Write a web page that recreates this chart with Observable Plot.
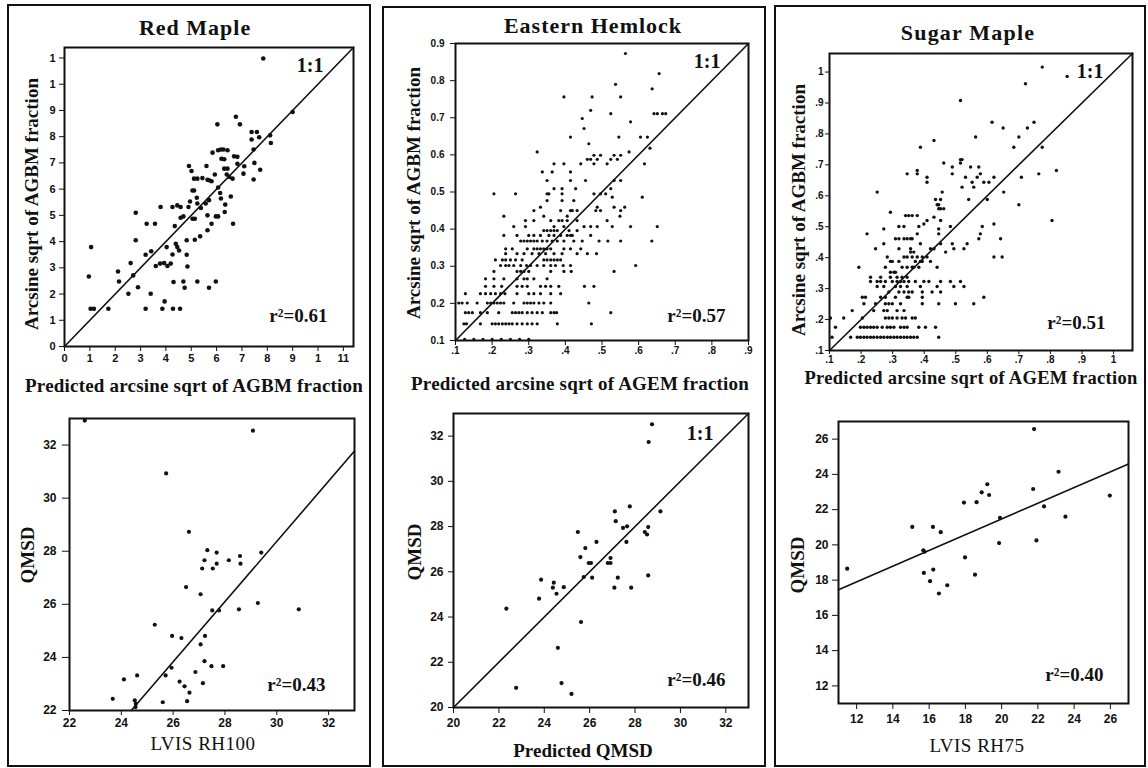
<!DOCTYPE html>
<html>
<head>
<meta charset="utf-8">
<script src="https://cdn.jsdelivr.net/npm/d3@7"></script>
<script src="https://cdn.jsdelivr.net/npm/@observablehq/plot@0.6"></script>
<style>
  body { margin: 0; background: #fff; }
  #page { position: relative; width: 1148px; height: 768px; overflow: hidden; background: #fff; }
  .box { position: absolute; border: 2px solid #111; box-sizing: border-box; }
  .panel { position: absolute; }
  .panel svg { overflow: visible; }
  .panel svg text { font-weight: bold; }
</style>
</head>
<body>
<div id="page"></div>
<script>
// ---- Data -------------------------------------------------------------
const species = ["Red Maple", "Eastern Hemlock", "Sugar Maple"];
const rSquared = [0.61, 0.57, 0.51, 0.43, 0.46, 0.40];

// Red maple: [predicted, observed] arcsine sqrt of AGBM fraction
const redMapleAgbm = [
  [0.096,0.267],[0.105,0.379],[0.103,0.144],[0.116,0.144],[0.173,0.144],[0.211,0.286],[0.215,0.248],
  [0.252,0.201],[0.261,0.318],[0.271,0.271],[0.281,0.510],[0.281,0.405],[0.290,0.226],[0.320,0.350],
  [0.320,0.144],[0.324,0.468],[0.340,0.201],[0.342,0.363],[0.357,0.468],[0.360,0.307],[0.377,0.316],
  [0.393,0.318],[0.406,0.307],[0.419,0.316],[0.379,0.532],[0.386,0.144],[0.395,0.172],[0.403,0.379],
  [0.426,0.532],[0.445,0.538],[0.458,0.532],[0.428,0.144],[0.456,0.144],[0.430,0.246],[0.426,0.351],
  [0.435,0.459],[0.439,0.392],[0.445,0.379],[0.452,0.366],[0.458,0.491],[0.469,0.496],[0.469,0.248],
  [0.474,0.224],[0.482,0.405],[0.482,0.350],[0.485,0.305],[0.489,0.532],[0.491,0.688],[0.495,0.553],
  [0.501,0.669],[0.505,0.595],[0.511,0.595],[0.505,0.487],[0.514,0.487],[0.511,0.640],[0.524,0.640],
  [0.514,0.407],[0.522,0.567],[0.524,0.248],[0.524,0.545],[0.535,0.420],[0.538,0.528],[0.544,0.642],
  [0.557,0.545],[0.570,0.558],[0.560,0.688],[0.564,0.636],[0.570,0.634],[0.580,0.630],[0.564,0.500],
  [0.564,0.443],[0.570,0.224],[0.580,0.468],[0.584,0.739],[0.593,0.656],[0.597,0.248],[0.597,0.496],
  [0.606,0.496],[0.603,0.847],[0.606,0.606],[0.606,0.748],[0.617,0.751],[0.627,0.751],[0.643,0.748],
  [0.614,0.585],[0.617,0.564],[0.619,0.716],[0.632,0.513],[0.634,0.541],[0.630,0.678],[0.643,0.678],
  [0.630,0.714],[0.640,0.656],[0.650,0.646],[0.663,0.640],[0.656,0.572],[0.665,0.468],[0.669,0.725],
  [0.682,0.723],[0.676,0.876],[0.682,0.697],[0.692,0.847],[0.706,0.659],[0.709,0.687],[0.738,0.818],
  [0.759,0.818],[0.738,0.789],[0.746,0.751],[0.746,0.637],[0.749,0.700],[0.768,0.798],[0.772,0.674],
  [0.784,1.098],[0.811,0.805],[0.814,0.776],[0.900,0.894]
];

// Eastern hemlock: [observed, [predicted values on that row]]
const hemlockAgbmRows = [
  [0.103, [0.125,0.15,0.175,0.2,0.225,0.25,0.275,0.3]],
  [0.145, [0.123,0.130,0.168,0.2,0.209,0.218,0.228,0.237,0.246,0.255,0.268,0.282,0.296,0.309,0.323,0.378,0.471]],
  [0.175, [0.127,0.136,0.146,0.168,0.187,0.218,0.255,0.264,0.273,0.282,0.296,0.309,0.323,0.337,0.360,0.369,0.376,0.524]],
  [0.201, [0.109,0.118,0.132,0.159,0.187,0.196,0.205,0.214,0.223,0.232,0.259,0.287,0.296,0.305,0.314,0.328,0.341,0.360,0.464]],
  [0.226, [0.127,0.168,0.182,0.196,0.209,0.223,0.235,0.268,0.300,0.314,0.332,0.360,0.387]],
  [0.246, [0.182,0.205,0.226,0.268,0.282,0.296,0.332,0.346,0.360,0.382,0.452,0.478]],
  [0.266, [0.182,0.205,0.232,0.268,0.287,0.296,0.314,0.350]],
  [0.286, [0.205,0.268,0.278,0.287,0.300,0.360,0.396,0.416,0.533]],
  [0.302, [0.223,0.237,0.246,0.259,0.278,0.294,0.305,0.323,0.341,0.360,0.373,0.394,0.414,0.592]],
  [0.317, [0.209,0.228,0.237,0.250,0.264,0.282,0.341,0.350,0.360,0.369,0.378,0.387]],
  [0.334, [0.237,0.268,0.287,0.309,0.328,0.346,0.369,0.391,0.432,0.460,0.485]],
  [0.347, [0.237,0.255,0.296,0.314,0.323,0.332,0.341,0.350,0.360,0.396,0.414,0.442]],
  [0.368, [0.278,0.287,0.296,0.305,0.314,0.323,0.337,0.350,0.364,0.378,0.396,0.423,0.446,0.492,0.516,0.551,0.636]],
  [0.383, [0.232,0.268,0.300,0.314,0.332,0.355,0.369,0.387,0.405,0.414,0.419,0.469]],
  [0.396, [0.341,0.350,0.360,0.369,0.378,0.410,0.432]],
  [0.407, [0.259,0.291,0.369,0.396,0.451,0.469,0.487,0.528,0.578,0.651]],
  [0.423, [0.291,0.314,0.360,0.382,0.391,0.405,0.432,0.514]],
  [0.435, [0.232,0.341,0.405,0.549]],
  [0.450, [0.314,0.387,0.414,0.419,0.432,0.483,0.496,0.551]],
  [0.459, [0.332,0.487,0.533,0.562]],
  [0.477, [0.350,0.391,0.423]],
  [0.486, [0.528,0.610]],
  [0.495, [0.205,0.264,0.350,0.355,0.391,0.478,0.496,0.510]],
  [0.509, [0.369,0.391,0.428,0.524]],
  [0.531, [0.350,0.414,0.455,0.533,0.551]],
  [0.554, [0.337,0.364,0.414]],
  [0.576, [0.369,0.396,0.442,0.478,0.514,0.616]],
  [0.588, [0.460,0.469,0.487,0.524,0.542]],
  [0.599, [0.478,0.496,0.533,0.551]],
  [0.608, [0.323,0.574]],
  [0.618, [0.631]],
  [0.630, [0.464]],
  [0.648, [0.414,0.546,0.605,0.624]],
  [0.671, [0.451]],
  [0.689, [0.578]],
  [0.698, [0.446]],
  [0.711, [0.524,0.642,0.651,0.665,0.674]],
  [0.720, [0.469]],
  [0.756, [0.396,0.473,0.551]],
  [0.778, [0.637]],
  [0.790, [0.537]],
  [0.819, [0.656]],
  [0.873, [0.564]]
];

// Sugar maple: [observed, [predicted values on that row]]
const sugarMapleAgbmRows = [
  [0.143, [0.108,0.167,0.188,0.198,0.209,0.219,0.230,0.240,0.251,0.262,0.272,0.283,0.293,0.304,0.314,0.325,0.336,0.346,0.357,0.367,0.378,0.446]],
  [0.175, [0.119,0.198,0.209,0.219,0.230,0.240,0.251,0.267,0.283,0.293,0.304,0.325,0.336,0.346,0.383,0.404,0.436]],
  [0.205, [0.103,0.145,0.204,0.277,0.288,0.299,0.314,0.330,0.341,0.362,0.372]],
  [0.229, [0.172,0.240,0.272,0.283,0.314,0.336]],
  [0.251, [0.209,0.246,0.277,0.288,0.299,0.325,0.394,0.446,0.499,0.557]],
  [0.272, [0.204,0.214,0.262,0.277,0.309,0.346,0.351,0.394,0.589]],
  [0.289, [0.288,0.320,0.336,0.351,0.362,0.394,0.425,0.452]],
  [0.307, [0.251,0.272,0.309,0.325,0.346,0.388,0.441,0.494,0.526]],
  [0.323, [0.230,0.251,0.262,0.277,0.299,0.314,0.325,0.336,0.351,0.372,0.399,0.415,0.452,0.483,0.515]],
  [0.337, [0.230,0.262,0.293,0.314,0.330,0.346]],
  [0.353, [0.293,0.304,0.309]],
  [0.369, [0.193,0.277,0.330,0.346,0.362,0.367,0.383,0.441]],
  [0.388, [0.293,0.299,0.320,0.372,0.388,0.394,0.420]],
  [0.402, [0.283,0.336,0.346,0.362,0.378,0.394,0.409,0.621,0.647]],
  [0.418, [0.357,0.367,0.468]],
  [0.429, [0.246,0.320,0.357,0.420,0.431,0.494,0.526]],
  [0.445, [0.272,0.388,0.452,0.489,0.536]],
  [0.461, [0.309,0.320,0.336,0.346,0.357,0.362,0.573,0.642]],
  [0.477, [0.219,0.378,0.446,0.578]],
  [0.493, [0.272,0.446]],
  [0.501, [0.320,0.336,0.383,0.483,0.584]],
  [0.509, [0.399,0.621]],
  [0.520, [0.409,0.452,0.805]],
  [0.531, [0.431]],
  [0.536, [0.341,0.351,0.362,0.378]],
  [0.547, [0.293]],
  [0.558, [0.446,0.452,0.462]],
  [0.571, [0.441,0.446,0.700]],
  [0.588, [0.436,0.452,0.541,0.600]],
  [0.612, [0.251,0.457,0.652]],
  [0.628, [0.520,0.557]],
  [0.644, [0.409,0.552,0.589,0.605]],
  [0.660, [0.409,0.531,0.568,0.621,0.708]],
  [0.671, [0.346,0.378,0.489,0.578,0.763]],
  [0.682, [0.378,0.819]],
  [0.693, [0.489,0.547,0.573]],
  [0.706, [0.462,0.515]],
  [0.717, [0.515,0.520]],
  [0.757, [0.388,0.684,0.774]],
  [0.779, [0.431]],
  [0.790, [0.563,0.700]],
  [0.819, [0.650,0.727]],
  [0.838, [0.615,0.748]],
  [0.908, [0.515]],
  [0.962, [0.721]],
  [0.986, [0.853]],
  [1.016, [0.774]]
];

// Red maple: [LVIS RH100, QMSD]
const redMapleQmsd = [
  [22.59,32.92],[29.08,32.54],[25.73,30.93],[26.61,28.73],[27.32,28.04],[27.68,27.95],[27.21,27.66],
  [27.12,27.35],[27.53,27.35],[27.68,27.53],[28.15,27.66],[28.58,27.82],[28.60,27.53],[29.40,27.95],
  [26.50,26.65],[27.06,26.38],[27.51,25.77],[27.77,25.77],[28.54,25.81],[29.27,26.05],[30.85,25.81],
  [25.29,25.23],[25.96,24.81],[26.32,24.73],[27.23,24.81],[27.06,24.49],[27.21,23.86],[27.48,23.67],
  [27.93,23.67],[25.94,23.61],[26.86,23.45],[25.71,23.32],[24.61,23.32],[24.10,23.17],[27.15,23.03],
  [26.25,23.09],[26.44,22.91],[26.63,22.67],[23.67,22.44],[24.52,22.38],[24.56,22.25],[24.55,22.13],
  [25.60,22.31],[26.54,22.35]
];

// Eastern hemlock: [predicted QMSD, QMSD]
const hemlockQmsd = [
  [28.75,32.52],[28.60,31.74],[27.77,28.89],[27.11,28.67],[29.12,28.67],[27.15,28.24],[27.65,28.01],
  [27.47,27.94],[28.58,27.98],[28.43,27.76],[28.53,27.65],[25.48,27.76],[27.62,27.32],[26.30,27.32],
  [25.81,27.05],[25.59,26.65],[26.92,26.61],[25.96,26.39],[26.06,26.39],[26.80,26.39],[26.92,26.39],
  [28.58,25.84],[26.11,25.74],[27.24,25.74],[25.74,25.77],[23.86,25.65],[24.42,25.52],[24.38,25.30],
  [24.86,25.32],[24.54,25.03],[27.09,25.30],[27.83,25.30],[23.77,24.81],[22.33,24.37],[25.62,23.78],
  [24.60,22.64],[24.76,21.08],[22.76,20.87],[25.20,20.60]
];

// Sugar maple: [LVIS RH75, QMSD]
const sugarMapleQmsd = [
  [11.48,18.65],[15.07,21.02],[16.21,21.02],[16.64,20.72],[15.68,19.69],[15.75,19.61],[15.71,18.41],
  [16.23,18.60],[16.05,17.94],[16.54,17.24],[17.00,17.71],[17.92,22.40],[18.62,22.42],[18.90,22.98],
  [19.21,23.44],[19.31,22.83],[17.98,19.29],[18.53,18.31],[19.86,20.10],[19.91,21.53],[21.79,26.57],
  [21.74,23.17],[21.92,20.25],[22.34,22.18],[23.14,24.15],[23.52,21.60],[25.97,22.80]
];

// Least-squares fits drawn in the QMSD panels
const redMapleFit = { slope: 1.134, intercept: -5.65 };
const sugarMapleFit = { slope: 0.446, intercept: 12.55 };

// Tick values and their printed labels
const redMapleTicks = [0, 0.1, 0.2, 0.3, 0.4, 0.5, 0.6, 0.7, 0.8, 0.9, 1.0, 1.1];
const redMapleTickLabelsX = ["0","1","2","3","4","5","6","7","8","9","1","11"];
const redMapleTickLabelsY = ["0","1","2","3","4","5","6","7","8","9","1","1"];
const hemlockTicks = [0.1, 0.2, 0.3, 0.4, 0.5, 0.6, 0.7, 0.8, 0.9];
const hemlockTickLabelsX = [".1",".2",".3",".4",".5",".6",".7",".8",".9"];
const hemlockTickLabelsY = ["0.1","0.2","0.3","0.4","0.5","0.6","0.7","0.8","0.9"];
const sugarMapleTicks = [0.1, 0.2, 0.3, 0.4, 0.5, 0.6, 0.7, 0.8, 0.9, 1.0];
const sugarMapleTickLabels = [".1",".2",".3",".4",".5",".6",".7",".8",".9","1"];
const redMapleQmsdTicks = [22, 24, 26, 28, 30, 32];
const hemlockQmsdTicks = [20, 22, 24, 26, 28, 30, 32];
const sugarMapleQmsdTicks = [12, 14, 16, 18, 20, 22, 24, 26];

// ---- Helpers -----------------------------------------------------------
const fromRows = rows => rows.flatMap(([y, xs]) => xs.map(x => [x, y]));
const labeller = (ticks, labels) => d => {
  const i = ticks.findIndex(t => Math.abs(t - d) < 1e-9);
  return i < 0 ? String(d) : labels[i];
};
const identityLine = dom => [[dom[0], dom[0]], [dom[1], dom[1]]];
const fitLine = (fit, xd, yd) => {
  const x0 = Math.max(xd[0], (yd[0] - fit.intercept) / fit.slope);
  const x1 = Math.min(xd[1], (yd[1] - fit.intercept) / fit.slope);
  return [[x0, fit.intercept + fit.slope * x0], [x1, fit.intercept + fit.slope * x1]];
};
const r2Text = v => "r\u00B2=" + v.toFixed(2);

const page = document.getElementById("page");

// outer boxes around each species column
[[7, 4, 364, 763], [382, 6, 384, 761], [774, 5, 372, 762]].forEach(([l, t, w, h]) => {
  const b = document.createElement("div");
  b.className = "box";
  Object.assign(b.style, { left: l + "px", top: t + "px", width: w + "px", height: h + "px" });
  page.appendChild(b);
});

const M = { l: 62, t: 14, r: 14, b: 34 };
function panel(cfg) {
  const f = cfg.frame;
  const width = f.r - f.l + M.l + M.r;
  const height = f.b - f.t + M.t + M.b;
  const serif = "Liberation Serif, Times New Roman, serif";
  const marks = [
    ...cfg.lines.map(l => Plot.line(l, { x: d => d[0], y: d => d[1], stroke: "#111", strokeWidth: 1.6 })),
    Plot.dot(cfg.points, { x: d => d[0], y: d => d[1], r: cfg.r, fill: "#111", stroke: "none" }),
    Plot.frame({ stroke: "#111", strokeWidth: 2 })
  ];
  if (cfg.oneToOne) {
    marks.push(Plot.text(["1:1"], {
      text: d => d, frameAnchor: "top-right", textAnchor: "end", lineAnchor: "top",
      dx: cfg.oneToOne[0], dy: cfg.oneToOne[1],
      fontFamily: serif, fontWeight: "bold", fontSize: 20, fill: "#111"
    }));
  }
  marks.push(Plot.text([cfg.r2], {
    text: d => r2Text(d), frameAnchor: "bottom-right", textAnchor: "end", lineAnchor: "top",
    dx: cfg.r2Pos[0], dy: cfg.r2Pos[1],
    fontFamily: serif, fontWeight: "bold", fontSize: 19, fill: "#111"
  }));
  const svg = Plot.plot({
    width, height,
    marginLeft: M.l, marginTop: M.t, marginRight: M.r, marginBottom: M.b,
    style: {
      fontFamily: cfg.tickFont, fontSize: cfg.tickSize + "px", fontWeight: "bold",
      background: "transparent", color: "#111", overflow: "visible"
    },
    x: {
      domain: cfg.xDomain, ticks: cfg.xTicks, tickFormat: labeller(cfg.xTicks, cfg.xLabels),
      tickSize: cfg.xt[0], tickPadding: cfg.xt[1], label: null
    },
    y: {
      domain: cfg.yDomain, ticks: cfg.yTicks, tickFormat: labeller(cfg.yTicks, cfg.yLabels),
      tickSize: cfg.yt[0], tickPadding: cfg.yt[1], label: null
    },
    marks
  });
  const holder = document.createElement("div");
  holder.className = "panel";
  holder.style.left = (f.l - M.l) + "px";
  holder.style.top = (f.t - M.t) + "px";
  holder.appendChild(svg);
  page.appendChild(holder);
}

const sans = "Liberation Sans, Arial, sans-serif";
const narrow = "Liberation Sans Narrow, Liberation Sans, Arial, sans-serif";

// Red maple AGBM
panel({
  frame: { l: 64, t: 47, r: 353, b: 346 },
  xDomain: [0, 1.14], yDomain: [0, 1.14],
  xTicks: redMapleTicks, yTicks: redMapleTicks,
  xLabels: redMapleTickLabelsX, yLabels: redMapleTickLabelsY,
  xt: [5, 3], yt: [5, 4], tickFont: sans, tickSize: 11,
  points: redMapleAgbm, r: 2.3,
  lines: [identityLine([0, 1.14])],
  oneToOne: [-30, 10], r2: rSquared[0], r2Pos: [-26, -38]
});

// Eastern hemlock AGBM
panel({
  frame: { l: 455, t: 43, r: 748, b: 340 },
  xDomain: [0.1, 0.9], yDomain: [0.1, 0.9],
  xTicks: hemlockTicks, yTicks: hemlockTicks,
  xLabels: hemlockTickLabelsX, yLabels: hemlockTickLabelsY,
  xt: [5, 1], yt: [5, 6], tickFont: sans, tickSize: 10,
  points: fromRows(hemlockAgbmRows), r: 1.6,
  lines: [identityLine([0.1, 0.9])],
  oneToOne: [-28, 10], r2: rSquared[1], r2Pos: [-23, -32]
});

// Sugar maple AGBM
panel({
  frame: { l: 829, t: 53, r: 1132, b: 350 },
  xDomain: [0.1, 1.06], yDomain: [0.1, 1.06],
  xTicks: sugarMapleTicks, yTicks: sugarMapleTicks,
  xLabels: sugarMapleTickLabels, yLabels: sugarMapleTickLabels,
  xt: [4, 1], yt: [4, 2], tickFont: sans, tickSize: 10,
  points: fromRows(sugarMapleAgbmRows), r: 1.7,
  lines: [identityLine([0.1, 1.06])],
  oneToOne: [-29, 10], r2: rSquared[2], r2Pos: [-27, -35]
});

// Red maple QMSD vs LVIS RH100
panel({
  frame: { l: 69, t: 418, r: 354, b: 710 },
  xDomain: [22, 33], yDomain: [22, 33],
  xTicks: redMapleQmsdTicks, yTicks: redMapleQmsdTicks,
  xLabels: redMapleQmsdTicks.map(String), yLabels: redMapleQmsdTicks.map(String),
  xt: [5, 3], yt: [7, 6], tickFont: narrow, tickSize: 12,
  points: redMapleQmsd, r: 2.1,
  lines: [fitLine(redMapleFit, [22, 33], [22, 33])],
  oneToOne: null, r2: rSquared[3], r2Pos: [-29, -33]
});

// Eastern hemlock QMSD vs predicted QMSD
panel({
  frame: { l: 453, t: 413, r: 748, b: 707 },
  xDomain: [20, 33], yDomain: [20, 33],
  xTicks: hemlockQmsdTicks, yTicks: hemlockQmsdTicks,
  xLabels: hemlockQmsdTicks.map(String), yLabels: hemlockQmsdTicks.map(String),
  xt: [6, 5], yt: [5, 5], tickFont: narrow, tickSize: 12,
  points: hemlockQmsd, r: 2.1,
  lines: [identityLine([20, 33])],
  oneToOne: [-35, 12], r2: rSquared[4], r2Pos: [-23, -35]
});

// Sugar maple QMSD vs LVIS RH75
panel({
  frame: { l: 838, t: 421, r: 1128, b: 703 },
  xDomain: [11, 27], yDomain: [11, 27],
  xTicks: sugarMapleQmsdTicks, yTicks: sugarMapleQmsdTicks,
  xLabels: sugarMapleQmsdTicks.map(String), yLabels: sugarMapleQmsdTicks.map(String),
  xt: [6, 5], yt: [6, 4], tickFont: narrow, tickSize: 12,
  points: sugarMapleQmsd, r: 2.1,
  lines: [fitLine(sugarMapleFit, [11, 27], [11, 27])],
  oneToOne: null, r2: rSquared[5], r2Pos: [-25, -36]
});

// ---- Titles and axis names -------------------------------------------
const overlay = d3.select(page).append("svg")
  .attr("width", 1148).attr("height", 768)
  .style("position", "absolute").style("left", 0).style("top", 0)
  .style("pointer-events", "none");

function label(text, x, y, { size = 19, weight = "bold", rotate = false, spacing = 0 } = {}) {
  overlay.append("text")
    .attr("transform", rotate ? `translate(${x},${y}) rotate(-90)` : `translate(${x},${y})`)
    .attr("text-anchor", "middle")
    .attr("font-family", "Liberation Serif, Times New Roman, serif")
    .attr("font-size", size)
    .attr("font-weight", weight)
    .attr("letter-spacing", spacing)
    .attr("fill", "#111")
    .text(text);
}

label(species[0], 195, 35, { size: 22, spacing: 1 });
label(species[1], 593, 33, { size: 22, spacing: 1 });
label(species[2], 968, 40, { size: 22, spacing: 1.2 });

label("Predicted arcsine sqrt of AGBM fraction", 194, 392, { spacing: 0.2 });
label("Predicted arcsine sqrt of AGEM fraction", 580, 390, { spacing: 0.2 });
label("Predicted arcsine sqrt of AGEM fraction", 971, 384, { size: 18.5, spacing: 0.3 });

label("Arcsine sqrt of AGBM fraction", 38, 204, { rotate: true });
label("Arcsine sqrt of AGBM fraction", 420, 193, { rotate: true });
label("Arcsine sqrt of AGBM fraction", 805, 210, { rotate: true });

label("QMSD", 34, 555, { rotate: true });
label("QMSD", 421, 552, { rotate: true });
label("QMSD", 804, 565, { rotate: true });

label("LVIS RH100", 203, 750, { weight: "normal", spacing: 0.5 });
label("Predicted QMSD", 583, 757);
label("LVIS RH75", 977, 752, { weight: "normal", spacing: 0.5 });
</script>
</body>
</html>
